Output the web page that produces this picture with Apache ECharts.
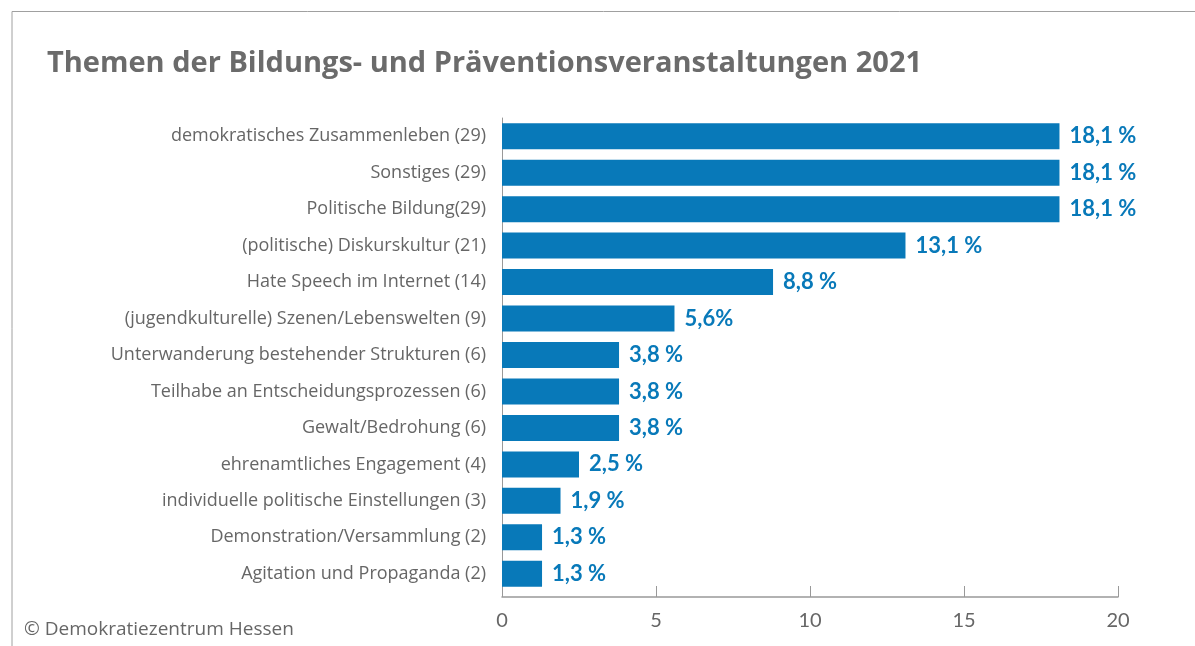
<!DOCTYPE html>
<html>
<head>
<meta charset="utf-8">
<script src="https://cdn.jsdelivr.net/npm/echarts@6/dist/echarts.min.js"></script>
<style>
  html, body { margin: 0; padding: 0; background: #fff; }
  #chart { width: 1195px; height: 646px; }
</style>
</head>
<body>
<div id="chart"></div>
<script>
// Themen der Bildungs- und Präventionsveranstaltungen 2021
var categories = [
  "demokratisches Zusammenleben (29)",
  "Sonstiges (29)",
  "Politische Bildung(29)",
  "(politische) Diskurskultur (21)",
  "Hate Speech im Internet (14)",
  "(jugendkulturelle) Szenen/Lebenswelten (9)",
  "Unterwanderung bestehender Strukturen (6)",
  "Teilhabe an Entscheidungsprozessen (6)",
  "Gewalt/Bedrohung (6)",
  "ehrenamtliches Engagement (4)",
  "individuelle politische Einstellungen (3)",
  "Demonstration/Versammlung (2)",
  "Agitation und Propaganda (2)"
];
var values = [18.1, 18.1, 18.1, 13.1, 8.8, 5.6, 3.8, 3.8, 3.8, 2.5, 1.9, 1.3, 1.3];
var valueLabels = ["18,1 %", "18,1 %", "18,1 %", "13,1 %", "8,8 %", "5,6%", "3,8 %", "3,8 %", "3,8 %", "2,5 %", "1,9 %", "1,3 %", "1,3 %"];
var xTicks = [0, 5, 10, 15, 20];

(function() {
  var myChart = echarts.init(document.getElementById("chart"));
  var grey = "#666666";
  var blue = "#0879b9";
  var font = "'Open Sans', sans-serif";

  var option = {
    backgroundColor: "#ffffff",
    animation: false,
    textStyle: { fontFamily: font },
    title: {
      text: "Themen der Bildungs- und Präventionsveranstaltungen 2021",
      left: 42,
      top: 44,
      textStyle: {
        fontSize: 29,
        fontWeight: "bold",
        color: "#6b6b6b",
        fontFamily: font
      }
    },
    graphic: [
      {
        type: "polyline",
        shape: { points: [[12, 646], [12, 11.5], [1195, 11.5]] },
        style: { stroke: "#a0a0a0", lineWidth: 1, fill: null }
      },
      {
        type: "text",
        left: 24,
        top: 620,
        style: {
          text: "© Demokratiezentrum Hessen",
          fill: grey,
          fontSize: 19,
          fontFamily: font
        }
      }
    ],
    grid: {
      left: 502,
      right: 77,
      top: 118,
      bottom: 54,
      containLabel: false
    },
    xAxis: {
      type: "value",
      min: 0,
      max: 20,
      interval: 5,
      offset: 5,
      axisLine: { show: true, lineStyle: { color: "#999999", width: 1.5 } },
      axisTick: { show: true, inside: true, length: 11, lineStyle: { color: "#999999" } },
      splitLine: { show: false },
      axisLabel: {
        color: grey,
        fontSize: 20,
        margin: 14,
        fontFamily: "Lato, sans-serif",
        formatter: function(v) { return xTicks.indexOf(v) >= 0 ? String(v) : ""; }
      }
    },
    yAxis: {
      type: "category",
      inverse: true,
      data: categories,
      axisLine: { show: true, lineStyle: { color: "#999999", width: 1 } },
      axisTick: { show: false },
      axisLabel: { color: grey, fontSize: 18, margin: 16 }
    },
    series: [
      {
        type: "bar",
        data: values,
        barWidth: 26,
        itemStyle: { color: blue },
        label: {
          show: true,
          position: "right",
          distance: 10,
          color: blue,
          fontSize: 22,
          fontWeight: "bold",
          fontFamily: "Lato, sans-serif",
          formatter: function(p) { return valueLabels[p.dataIndex]; }
        }
      }
    ]
  };

  myChart.setOption(option);
})();
</script>
</body>
</html>
